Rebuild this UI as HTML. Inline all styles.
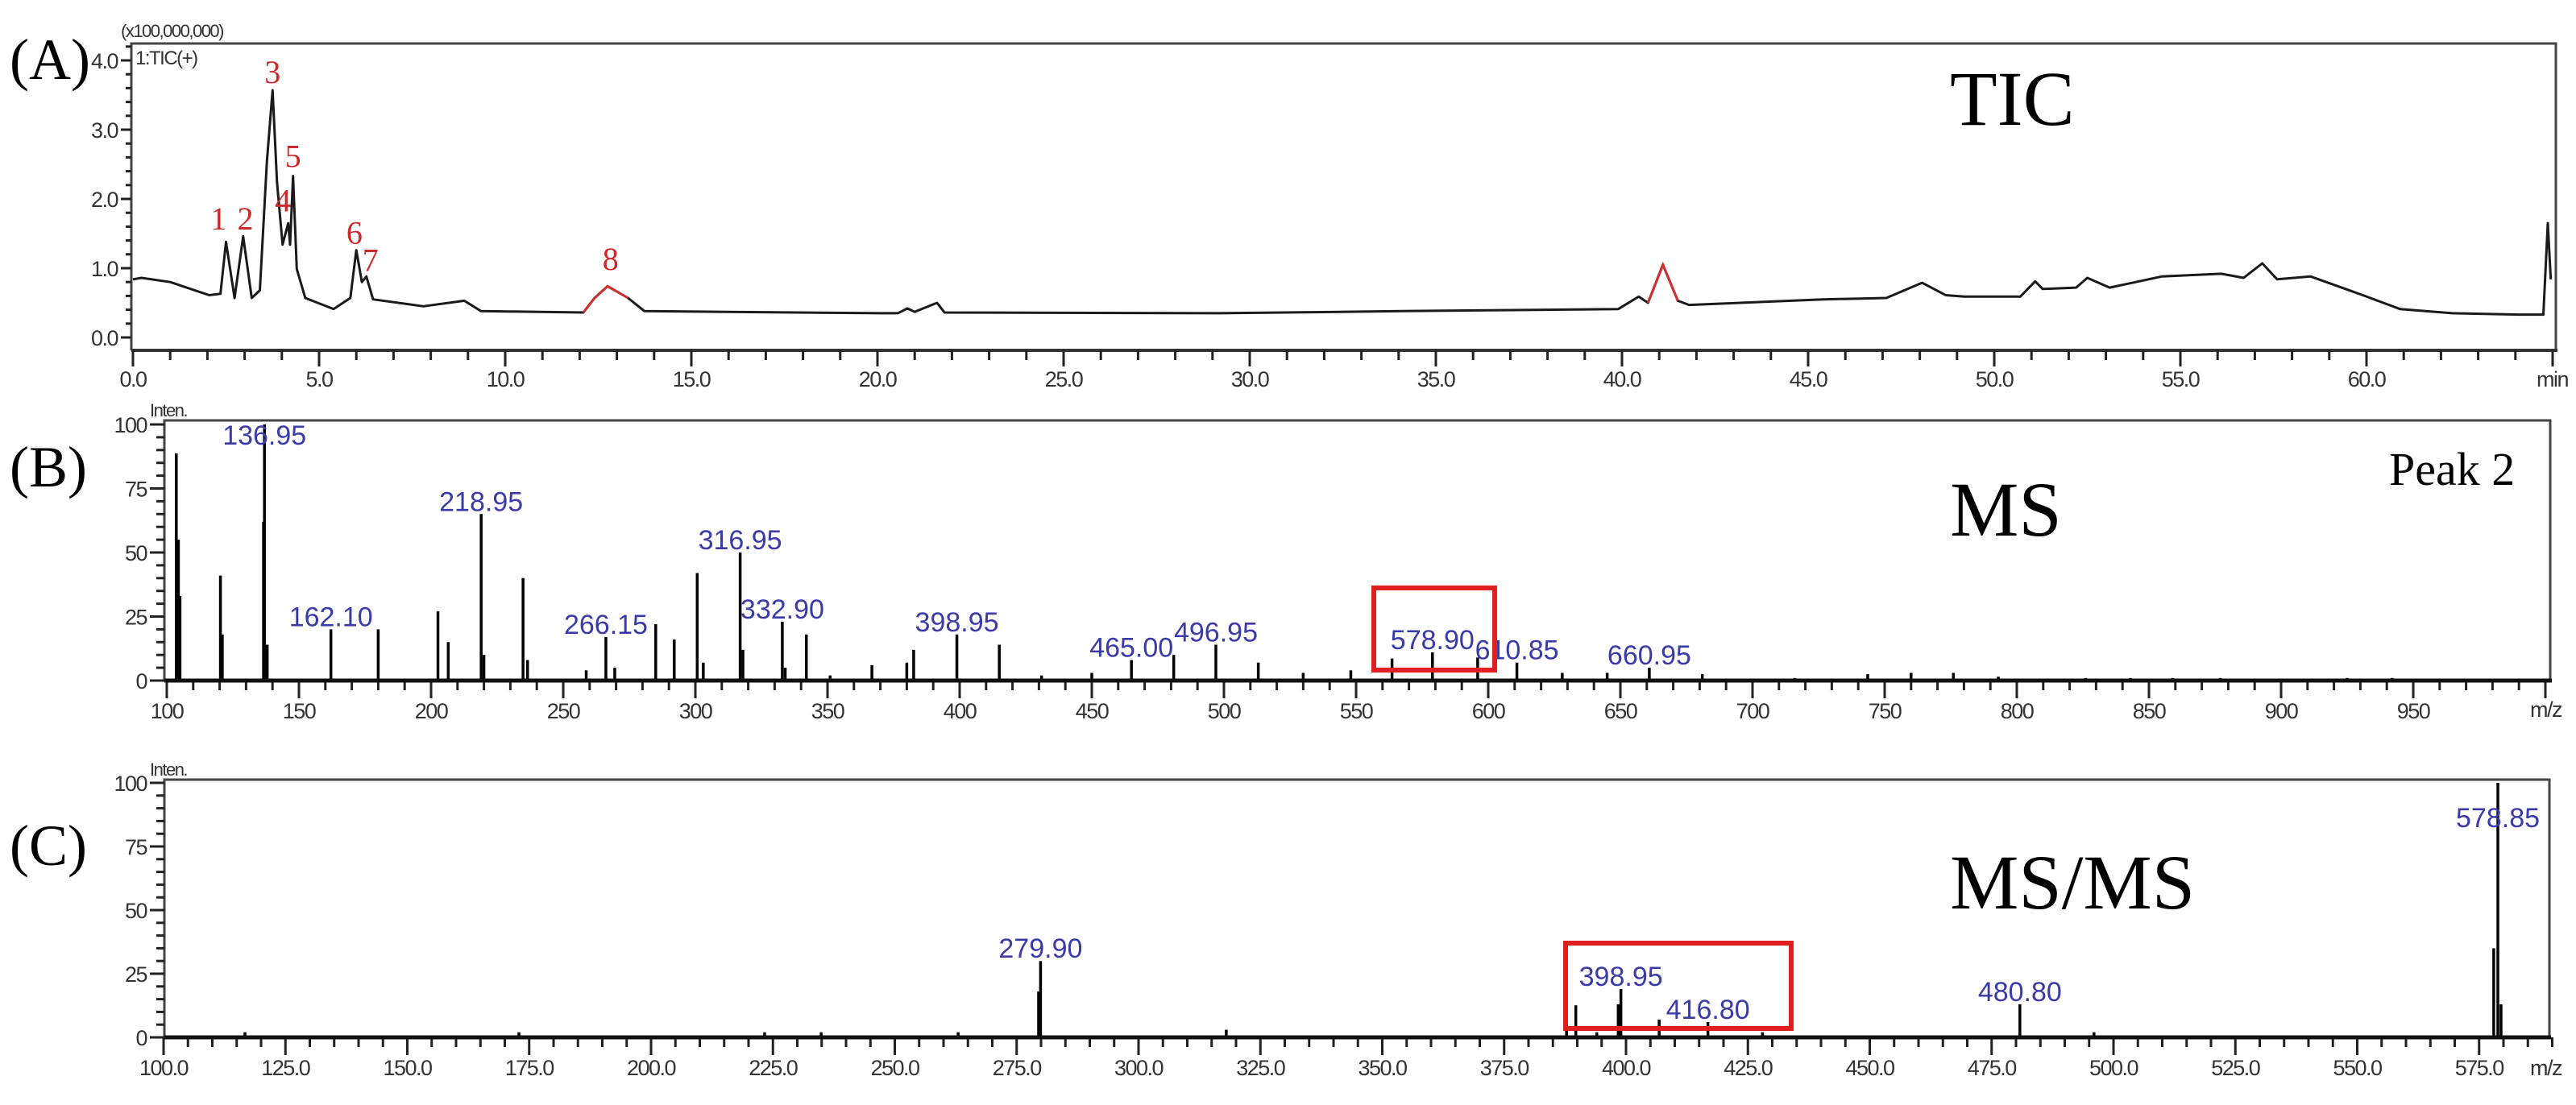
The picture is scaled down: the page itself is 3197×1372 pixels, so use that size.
<!DOCTYPE html>
<html><head><meta charset="utf-8"><style>
html,body{margin:0;padding:0;background:#fff;}
svg{display:block;}
.tk{font-family:"Liberation Sans",Arial,sans-serif;font-size:27px;fill:#333;letter-spacing:-1.5px;}
.lb{font-family:"Liberation Sans",Arial,sans-serif;font-size:34px;fill:#3a3aa8;}
.big{font-family:"Liberation Serif","Times New Roman",serif;fill:#000;}
.red{font-family:"Liberation Serif",serif;font-size:40px;fill:#d02828;}
</style></head><body>
<svg id="fig" xmlns="http://www.w3.org/2000/svg" width="3197" height="1372" viewBox="0 0 3197 1372">
<rect width="3197" height="1372" fill="#fff"/>
<g id="gA"></g>
<g id="gB"></g>
<g id="gC"></g>
<text class="big" x="12" y="98" font-size="72">(A)</text>
<text class="big" x="12" y="604" font-size="72">(B)</text>
<text class="big" x="12" y="1074" font-size="72">(C)</text>
<text class="big" x="2420" y="155" font-size="96">TIC</text>
<text class="big" x="2420" y="665" font-size="96">MS</text>
<text class="big" x="2965" y="602" font-size="58">Peak 2</text>
<text class="big" x="2420" y="1128" font-size="96">MS/MS</text>
<text class="tk" x="150" y="46" style="font-size:22px">(x100,000,000)</text>
<text class="tk" x="168" y="80" style="font-size:24px">1:TIC(+)</text>
<text class="tk" x="186" y="517" style="font-size:22px">Inten.</text>
<text class="tk" x="186" y="963" style="font-size:22px">Inten.</text>
<text class="tk" x="3148" y="480">min</text>
<text class="tk" x="3140" y="890">m/z</text>
<text class="tk" x="3140" y="1335">m/z</text>
<rect x="1705" y="730" width="150" height="102" fill="none" stroke="#e02020" stroke-width="6"/>
<rect x="1943" y="1171" width="280" height="106" fill="none" stroke="#e02020" stroke-width="6"/>
</svg>
<script>
// ---- TIC data (time min, intensity x1e8)
const ticTime=[0,0.23,1.0,2.05,2.35,2.5,2.73,2.96,3.19,3.41,3.6,3.75,3.87,4.02,4.17,4.22,4.3,4.4,4.63,5.39,5.84,6.0,6.15,6.27,6.45,7.8,8.9,9.35,12.1,12.4,12.75,13.3,13.74,20.1,20.55,20.8,21.0,21.6,21.8,29.2,34.1,39.9,40.45,40.7,41.1,41.5,41.8,45.4,47.1,48.06,48.7,49.2,50.7,51.1,51.3,52.2,52.5,53.1,54.5,56.1,56.7,57.2,57.6,58.5,59.9,60.9,62.3,64.1,64.75,64.87,64.95];
const ticVal=[0.84,0.86,0.80,0.61,0.63,1.38,0.57,1.46,0.57,0.68,2.55,3.57,2.24,1.34,1.65,1.34,2.33,0.99,0.57,0.41,0.57,1.26,0.80,0.88,0.55,0.45,0.53,0.38,0.36,0.57,0.74,0.57,0.38,0.35,0.35,0.42,0.37,0.50,0.36,0.35,0.38,0.41,0.59,0.50,1.05,0.53,0.47,0.55,0.57,0.79,0.61,0.59,0.59,0.81,0.70,0.72,0.86,0.72,0.88,0.92,0.86,1.07,0.84,0.88,0.61,0.41,0.35,0.33,0.33,1.65,0.84];
const ticPeakNames=["1","2","3","4","5","6","7","8"];
const ticPeakTime=[2.3,3.02,3.75,4.03,4.3,5.95,6.38,12.83];
const ticPeakVal=[1.72,1.72,3.84,1.98,2.62,1.52,1.12,1.14];
const ticYTicks=["0.0","1.0","2.0","3.0","4.0"];
const ticXTicks=["0.0","5.0","10.0","15.0","20.0","25.0","30.0","35.0","40.0","45.0","50.0","55.0","60.0"];
// ---- MS data (m/z, %)
const msMz=[103.6,104.4,105,120.3,121,136.6,136.95,138,162.1,180,202.6,206.5,218.95,220,234.8,236.5,258.7,266.15,269.5,285,292,300.7,303,316.95,318,332.9,334,342,351,366.8,380,382.6,398.95,415,431,450,465,481,496.95,513,530,548,563.6,578.9,596,610.85,628,645,660.95,681,716,743.6,760,776,793,826,843,859,877,925,942];
const msInt=[88.7,55,33,41,18,62,100,14,20,20,27,15,65,10,40,8,4,17,5,22,16,42,7,50,12,23,5,18,2,6,7,12,18,14,2,3,8,10,14,7,3,4,8.6,11,9,7,3,3,5,2.5,1,2.5,3,3,1.5,1,1,1,1,1,1];
const msLabels=["136.95","162.10","218.95","266.15","316.95","332.90","398.95","465.00","496.95","578.90","610.85","660.95"];
const msLabelMz=[136.95,162.1,218.95,266.15,316.95,332.9,398.95,465,496.95,578.9,610.85,660.95];
const msLabelInt=[100,20,65,17,50,23,18,8,14,11,7,5];
const msXTicks=["100","150","200","250","300","350","400","450","500","550","600","650","700","750","800","850","900","950"];
const intYTicks=["0","25","50","75","100"];
// ---- MS/MS data
const msmsMz=[116.7,172.9,223.3,234.9,263,279.5,279.9,318,387.8,389.7,394,398.4,398.95,406.8,416.8,428,480.8,496,578.0,578.85,579.5];
const msmsInt=[2,2,2,2,2,18,30,3,5,12.6,2,13,19,7,6,2,13,2,35,100,13];
const msmsLabels=["279.90","398.95","416.80","480.80","578.85"];
const msmsLabelMz=[279.9,398.95,416.8,480.8,578.85];
const msmsLabelInt=[30,19,6,13,100];
const msmsXTicks=["100.0","125.0","150.0","175.0","200.0","225.0","250.0","275.0","300.0","325.0","350.0","375.0","400.0","425.0","450.0","475.0","500.0","525.0","550.0","575.0"];

const NS="http://www.w3.org/2000/svg";
function mk(parent,tag,attrs){const e=document.createElementNS(NS,tag);for(const k in attrs)e.setAttribute(k,attrs[k]);parent.appendChild(e);return e;}

const xA=t=>165+46.2*t, yA=v=>419-86*v;
const xB=m=>207+3.28*(m-100), yB=i=>845-3.18*i;
const xC=m=>203+6.05*(m-100), yC=i=>1288-3.16*i;

// ---------- Panel A
const gA=document.getElementById('gA');
let fr=mk(gA,'path',{d:`M163 435 L163 54 L3172 54 L3172 435`,fill:'none',stroke:'#444','stroke-width':3});


let ax=mk(gA,'line',{x1:163,y1:435,x2:3174,y2:435,stroke:'#333','stroke-width':4});


for(let t=0;t<=65;t++){const maj=t%5===0;const l=mk(gA,'line',{x1:xA(t),x2:xA(t),y1:435,y2:maj?455:447,stroke:'#222','stroke-width':3});

}
ticXTicks.forEach(s=>{const v=parseFloat(s);const e=mk(gA,'text',{x:xA(v),y:480,'text-anchor':'middle',class:'tk'});e.textContent=s;

});
for(let k=0;k<=21;k++){const v=k*0.2;const maj=k%5===0;const l=mk(gA,'line',{x1:maj?150:156,x2:163,y1:yA(v),y2:yA(v),stroke:'#222','stroke-width':3});

}
ticYTicks.forEach(s=>{const v=parseFloat(s);const e=mk(gA,'text',{x:146,y:yA(v)+10,'text-anchor':'end',class:'tk'});e.textContent=s;

});
let pts=ticTime.map((t,i)=>xA(t).toFixed(1)+','+yA(ticVal[i]).toFixed(1)).join(' ');
let pl=mk(gA,'polyline',{points:pts,fill:'none',stroke:'#1a1a1a','stroke-width':3,'stroke-linejoin':'round'});


[[12.1,13.3],[40.7,41.5]].forEach(r=>{const p=ticTime.map((t,i)=>[t,ticVal[i]]).filter(d=>d[0]>=r[0]&&d[0]<=r[1]).map(d=>xA(d[0]).toFixed(1)+','+yA(d[1]).toFixed(1)).join(' ');
const e=mk(gA,'polyline',{points:p,fill:'none',stroke:'#d03030','stroke-width':3});

});
ticPeakNames.forEach((n,i)=>{const e=mk(gA,'text',{x:xA(ticPeakTime[i]),y:yA(ticPeakVal[i])+14,'text-anchor':'middle',class:'red'});e.textContent=n;

});

// ---------- spectrum panel builder
function spectrum(g,pre,xs,ys,top,right,base,left,xmin,xmax,minorStep,majorStep,xTicks,mz,inten,labels,lMz,lInt,clampOff){
 let f=mk(g,'path',{d:`M${left} ${base} L${left} ${top} L${right} ${top} L${right} ${base}`,fill:'none',stroke:'#444','stroke-width':3});
 
 
 for(let m=xmin;m<=xmax+1e-6;m+=minorStep){const maj=Math.abs((m/majorStep)-Math.round(m/majorStep))<1e-6;
  const l=mk(g,'line',{x1:xs(m),x2:xs(m),y1:base,y2:maj?base+22:base+12,stroke:'#222','stroke-width':3});
  
  }
 xTicks.forEach(s=>{const v=parseFloat(s);const e=mk(g,'text',{x:xs(v),y:base+47,'text-anchor':'middle',class:'tk'});e.textContent=s;
  
  });
 for(let v=0;v<=100;v+=5){const maj=v%25===0;const l=mk(g,'line',{x1:maj?186:194,x2:left,y1:ys(v),y2:ys(v),stroke:'#222','stroke-width':3});
  
  }
 intYTicks.forEach(s=>{const v=parseFloat(s);const e=mk(g,'text',{x:182,y:ys(v)+10,'text-anchor':'end',class:'tk'});e.textContent=s;
  
  });
 mz.forEach((m,i)=>{const l=mk(g,'line',{x1:xs(m),x2:xs(m),y1:base,y2:ys(inten[i]),stroke:'#000','stroke-width':3.5});
  
  });
 let bl=mk(g,'line',{x1:left,y1:base,x2:right+2,y2:base,stroke:'#111','stroke-width':5});
 
 
 labels.forEach((s,i)=>{let y=ys(lInt[i])-4;if(y<top+clampOff)y=top+clampOff;
  const e=mk(g,'text',{x:xs(lMz[i]),y:y,'text-anchor':'middle',class:'lb'});e.textContent=s;
  
  });
}
spectrum(document.getElementById('gB'),'ms',xB,yB,522,3165,845,204,100,1000,10,50,msXTicks,msMz,msInt,msLabels,msLabelMz,msLabelInt,30);
spectrum(document.getElementById('gC'),'msms',xC,yC,968,3164,1288,204,100,590,5,25,msmsXTicks,msmsMz,msmsInt,msmsLabels,msmsLabelMz,msmsLabelInt,59);
</script>
</body></html>
